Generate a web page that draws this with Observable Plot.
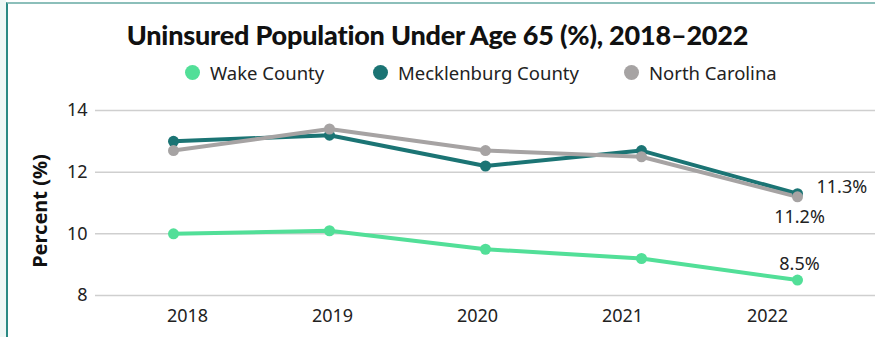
<!DOCTYPE html>
<html><head><meta charset="utf-8">
<script src="https://cdn.jsdelivr.net/npm/d3@7"></script>
<script src="https://cdn.jsdelivr.net/npm/@observablehq/plot@0.6"></script>
<style>
html,body{margin:0;padding:0;background:#fff;width:875px;height:337px;overflow:hidden;font-family:"Noto Sans",sans-serif;}
#strip{position:absolute;left:0;top:0;width:6px;height:337px;background:#eef7f5;}
#frame{position:absolute;left:6px;top:2px;width:869px;height:335px;border-left:2px solid #2a8a84;border-top:2px solid #8cbfba;box-sizing:border-box;}
#title{position:absolute;left:0;width:875px;top:18px;text-align:center;font-family:Lato,sans-serif;font-weight:900;font-size:27px;color:#111;letter-spacing:-0.2px;}
#legend{position:absolute;top:60px;left:0;width:875px;height:24px;font-size:18.5px;color:#222;}
.li{position:absolute;top:0;display:flex;align-items:center;height:24px;white-space:nowrap;}
.dot{width:15px;height:15px;border-radius:50%;display:inline-block;margin-right:10px;}
#chart{position:absolute;left:0;top:95px;}
#xaxis{position:absolute;left:0;top:295px;}
</style></head>
<body>
<div id="strip"></div><div id="frame"></div>
<div id="title">Uninsured Population Under Age 65 (%), 2018–2022</div>
<div id="legend"></div>
<div id="chart"></div>
<div id="xaxis"></div>
<script>
const years = ["2018","2019","2020","2021","2022"];
const seriesNames = ["Wake County","Mecklenburg County","North Carolina"];
const seriesColors = ["#52df98","#1b7474","#a6a3a3"];
const wake = [10.0,10.1,9.5,9.2,8.5];
const mecklenburg = [13.0,13.2,12.2,12.7,11.3];
const northCarolina = [12.7,13.4,12.7,12.5,11.2];
const yTicks = [8,10,12,14];

const values = [wake, mecklenburg, northCarolina];
const data = [];
seriesNames.forEach((s,i)=>years.forEach((y,j)=>data.push({series:s, year:y, value:values[i][j]})));
const last = data.filter(d=>d.year==="2022");
const lab = s => last.filter(d=>d.series===s);
const fmt = d => d.value.toFixed(1)+"%";

// legend
const legendPos = [185, 373, 624];
const leg = document.getElementById("legend");
seriesNames.forEach((s,i)=>{
  const el=document.createElement("div"); el.className="li"; el.style.left=legendPos[i]+"px";
  el.innerHTML=`<span class="dot" style="background:${seriesColors[i]}"></span>${s}`;
  leg.appendChild(el);
});

const color = {domain: seriesNames, range: seriesColors};
const chart = Plot.plot({
  width: 875, height: 242,
  marginLeft: 95, marginRight: 0, marginTop: 15, marginBottom: 42,
  style: {fontFamily: "Noto Sans, sans-serif", fontSize: "18px", color: "#222", background: "transparent"},
  x: {type: "point", domain: years, padding: 0.5, label: null, axis: null},
  y: {domain: [8,14], ticks: yTicks, label: null},
  color,
  marks: [
    Plot.gridY(yTicks, {stroke: "#cfcfcf", strokeOpacity: 1, strokeWidth: 1.5}),
    Plot.axisY(yTicks, {tickSize: 0, tickPadding: 8, label: null, fontSize: 18}),
    Plot.text(["Percent (%)"], {frameAnchor: "left", textAnchor: "middle", dx: -55, dy: 8, rotate: -90, fontWeight: "bold", fontSize: 20, fill: "#111"}),
    Plot.line(data, {x: "year", y: "value", z: "series", stroke: "series", strokeWidth: 4, curve: "linear"}),
    Plot.dot(data, {x: "year", y: "value", fill: "series", r: 5.5}),
    Plot.text(lab("Mecklenburg County"), {x:"year", y:"value", text: fmt, textAnchor:"start", dx: 19, dy: -7, fontSize: 18, fill:"#222"}),
    Plot.text(lab("North Carolina"), {x:"year", y:"value", text: fmt, dx: 2, dy: 20, fontSize: 18, fill:"#222"}),
    Plot.text(lab("Wake County"), {x:"year", y:"value", text: fmt, dx: 2, dy: -16, fontSize: 18, fill:"#222"})
  ]
});
document.getElementById("chart").appendChild(chart);

// category axis (labels laid out on their own band, as in the source chart)
const xAxis = Plot.plot({
  width: 875, height: 40,
  marginLeft: 114, marginRight: 36, marginTop: 0, marginBottom: 40,
  style: {fontFamily: "Noto Sans, sans-serif", fontSize: "18px", color: "#222", background: "transparent"},
  x: {type: "point", domain: years, padding: 0.5, label: null},
  marks: [Plot.axisX({tickSize: 0, tickPadding: 14, label: null, fontSize: 18})]
});
document.getElementById("xaxis").appendChild(xAxis);
</script>
</body></html>
